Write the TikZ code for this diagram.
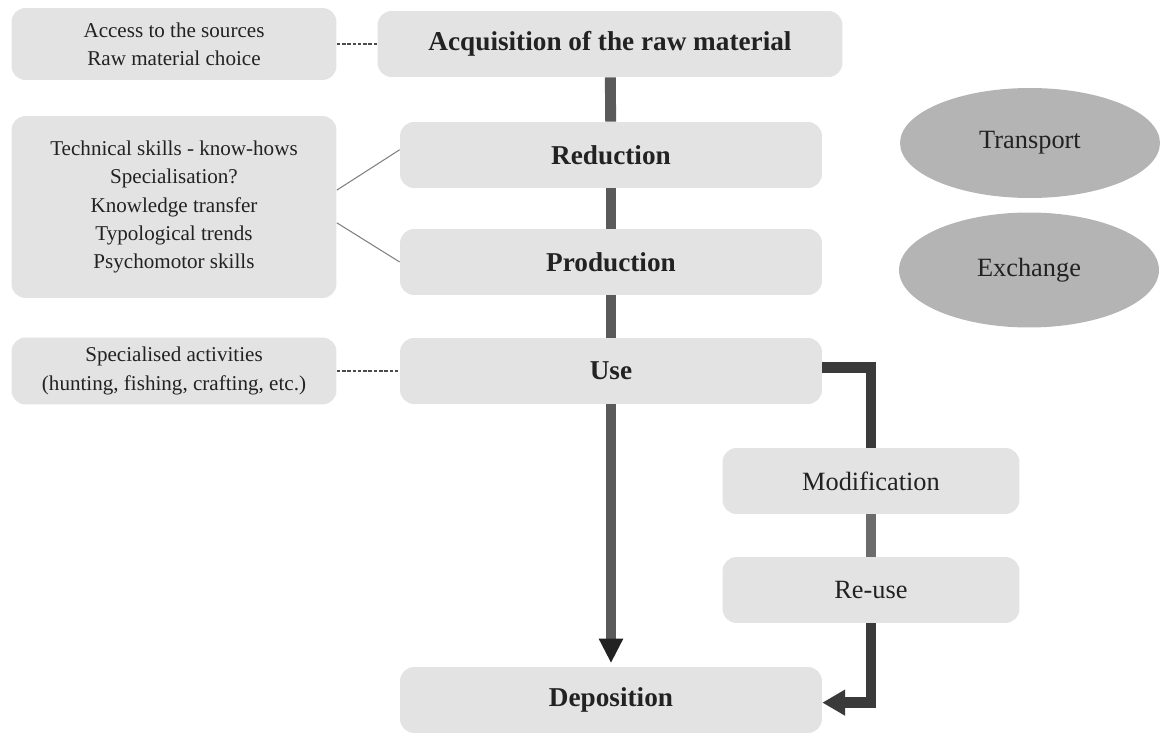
\documentclass[tikz,border=0pt]{standalone}
\usepackage{fontspec}
\setmainfont{Liberation Serif}
\usetikzlibrary{arrows.meta,shapes.geometric}
\definecolor{boxgray}{HTML}{E3E3E3}
\definecolor{ovalgray}{HTML}{B4B4B4}
\definecolor{bargray}{HTML}{5A5A5A}
\definecolor{bardark}{HTML}{3A3A3A}
\definecolor{txtgray}{HTML}{222222}

\begin{document}
\begin{tikzpicture}[x=0.02cm, y=-0.02cm]
\tikzset{stage/.style={rectangle, rounded corners=8pt, fill=boxgray, minimum width=8.44cm, minimum height=1.32cm, inner sep=0pt, text=txtgray, font=\fontsize{15.5}{18}\selectfont\bfseries}}
\tikzset{note/.style={rectangle, rounded corners=8pt, fill=boxgray, minimum width=6.5cm, inner sep=0pt, text=txtgray, align=center, font=\fontsize{12}{16}\selectfont}}
\tikzset{reuse box/.style={rectangle, rounded corners=8pt, fill=boxgray, minimum width=5.94cm, minimum height=1.32cm, inner sep=0pt, text=txtgray, font=\fontsize{15}{18}\selectfont}}
\tikzset{oval/.style={ellipse, fill=ovalgray, minimum width=5.2cm, minimum height=2.2cm, inner sep=0pt, text=txtgray, font=\fontsize{15}{18}\selectfont}}
\tikzset{bar/.style={line width=6.2pt, bargray}}
\tikzset{link/.style={line width=0.6pt, gray}}
\tikzset{dots/.style={line width=0.6pt, gray!60!black, dash pattern=on 2pt off 1pt}}
\useasboundingbox (0,0) rectangle (1163,733);

% main chain
\node[stage, minimum width=9.3cm] (acq) at (610,44) {Acquisition of the raw material};
\node[stage] (red) at (611,155) {Reduction};
\node[stage] (prod) at (611,262) {Production};
\node[stage] (use) at (611,371) {Use};
\node[stage] (depo) at (611,700) {Deposition};

% side notes
\node[note, minimum height=1.44cm] (src) at (174,44) {Access to the sources\\Raw material choice};
\node[note, minimum height=3.64cm] (tech) at (174,207) {Technical skills - know-hows\\Specialisation?\\Knowledge transfer\\Typological trends\\Psychomotor skills};
\node[note, minimum height=1.34cm] (act) at (174,371) {Specialised activities\\(hunting, fishing, crafting, etc.)};

% re-use loop
\node[reuse box] (modif) at (871,481) {Modification};
\node[reuse box] (reuse) at (871,590) {Re-use};

\node[oval] (trans) at (1030,143) {Transport};
\node[oval, minimum height=2.3cm] (exch) at (1029,270) {Exchange};

\draw[bar] (acq) -- (red);
\draw[bar] (red) -- (prod);
\draw[bar] (prod) -- (use);
\draw[bar, -{Triangle[length=14pt,width=13pt,color=txtgray]}] (use) -- ([yshift=2pt]depo.north);
\draw[bar, bardark, line join=miter] ([yshift=2pt]use.east) -| (modif.north);
\draw[bar, gray!85!black] (modif) -- (reuse);
\draw[bar, bardark, line join=miter, -{Triangle[length=13pt,width=14pt]}] (reuse.south) |- ([yshift=-1.5pt]depo.east);

\draw[dots] (src) -- (acq);
\draw[dots] (act) -- (use);
\draw[link] ([yshift=9.6pt]tech.east) -- ([yshift=3pt]red.west);
\draw[link] ([yshift=-9pt]tech.east) -- (prod.west);
\end{tikzpicture}
\end{document}
